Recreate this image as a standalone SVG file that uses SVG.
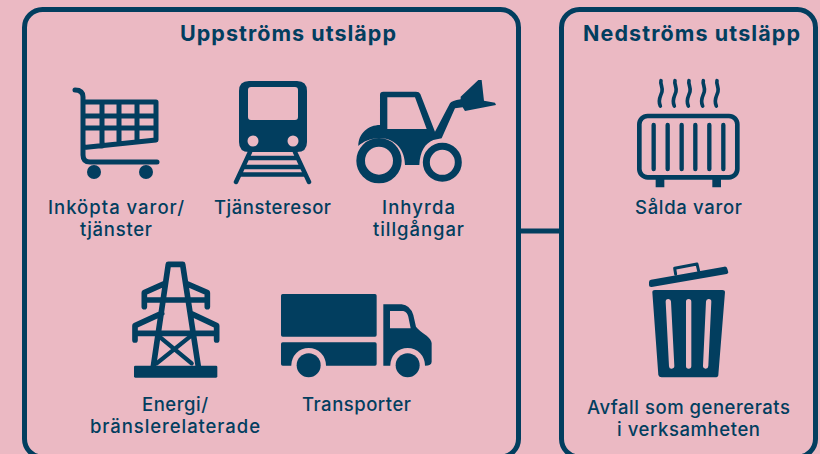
<svg xmlns="http://www.w3.org/2000/svg" width="820" height="454" viewBox="0 0 820 454">
<style>
.panel{fill:none;stroke:#023e5f;stroke-width:5}
.ink{fill:#023e5f}
.line{fill:none;stroke:#023e5f;stroke-linecap:round;stroke-linejoin:round}
.hole{fill:#ebb9c3}
.title{font:700 21.5px "Inter","Liberation Sans",sans-serif;fill:#023e5f;text-anchor:middle}
.label{font:500 18.500px "Inter","Liberation Sans",sans-serif;fill:#023e5f;text-anchor:middle}
</style>
<rect width="820" height="454" fill="#ebb9c3"/>
<g id="connectors"><path d="M520 231H561" fill="none" stroke="#023e5f" stroke-width="5"/></g>
<g id="upstream"><rect class="panel" x="24.500" y="9.500" width="494" height="447.500" rx="18"/><text class="title" x="288" y="41" textLength="216">Uppströms utsläpp</text></g>
<g id="downstream"><rect class="panel" x="561.500" y="9.500" width="254" height="447.500" rx="18"/><text class="title" x="691.500" y="41" textLength="217">Nedströms utsläpp</text></g>
<g id="cart">
<path class="line" stroke-width="5" d="M75 90Q83 90 83 97V155Q83 162 90 162H157M83 102H156V140L84 147.500M83 116H156M83 128H156M102 102V146M119 102V144M137 102V142"/>
<circle class="ink" cx="94" cy="172" r="7"/><circle class="ink" cx="146" cy="172" r="7"/>
<text class="label" x="116" y="214" textLength="136">Inköpta varor/</text>
<text class="label" x="116" y="236" textLength="72">tjänster</text>
</g>
<g id="train">
<path class="ink" fill-rule="evenodd" d="M249 81H297Q307 81 307 91V142Q307 152 297 152H249Q239 152 239 142V91Q239 81 249 81ZM251 87Q248 87 248 90V117Q248 120 251 120H295Q298 120 298 117V90Q298 87 295 87Z"/>
<circle class="hole" cx="253" cy="141" r="5.500"/><circle class="hole" cx="293" cy="141" r="5.500"/>
<path class="line" stroke-width="4.500" d="M250 152L236 182M295 152L309 182M248 158H297M244 167H301M241 174.500H304"/>
<text class="label" x="272.500" y="214" textLength="117">Tjänsteresor</text>
</g>
<g id="tractor">
<g transform="translate(340 70) scale(.3333)">
<path class="ink" fill-rule="evenodd" d="M55 228C55 190 85 165 120 165V75Q120 65 130 65H228Q238 65 241 72L285 185L330 100Q335 92 362 88V80L415 30H425L432 92L465 98L468 105L375 123L368 112L345 115L305 205L280 210C255 220 240 245 238 285H195C195 245 170 205 120 205C90 205 70 215 55 228ZM142 82V177H260L225 82Z"/>
<circle cx="117" cy="272" r="55" fill="none" stroke="#023e5f" stroke-width="26"/>
<circle cx="307" cy="277" r="48" fill="none" stroke="#023e5f" stroke-width="21"/>
</g>
<text class="label" x="418.500" y="214" textLength="73">Inhyrda</text>
<text class="label" x="418.500" y="236" textLength="91">tillgångar</text>
</g>
<g id="tower">
<g transform="translate(120 255) scale(.3333)">
<rect class="ink" x="42" y="332" width="250" height="36" rx="4"/>
<path class="line" stroke-width="17" d="M100 335L145 28H188L235 335M135 85L73 113V155M198 85L262 113V155M73 135H262M125 175L45 212V255M212 175L290 212V255M45 235H290"/>
<path class="line" stroke-width="13" d="M118 245L215 325M210 245L110 325"/>
</g>
<text class="label" x="175" y="411" textLength="66">Energi/</text>
<text class="label" x="175" y="433" textLength="170">bränslerelaterade</text>
</g>
<g id="truck">
<g transform="translate(270 285) scale(.3333)">
<rect class="ink" x="33" y="27" width="287" height="128" rx="5"/>
<rect class="ink" x="33" y="172" width="287" height="70" rx="5"/>
<path class="ink" fill-rule="evenodd" d="M340 58H395Q420 60 430 90L438 125Q445 135 470 152Q485 165 485 175V230Q485 242 465 242H340ZM360 78V130H422L415 95Q412 82 400 78Z"/>
<circle class="hole" cx="116" cy="241" r="52"/><circle class="hole" cx="413" cy="241" r="52"/>
<circle class="ink" cx="116" cy="241" r="36"/><circle class="ink" cx="413" cy="241" r="36"/>
</g>
<text class="label" x="356.500" y="411" textLength="109">Transporter</text>
</g>
<g id="radiator">
<g transform="translate(625 70) scale(.3333)">
<rect x="43" y="138" width="294" height="184" rx="25" fill="none" stroke="#023e5f" stroke-width="14"/>
<path class="line" stroke-width="13" d="M86 165V297M128 165V297M170 165V297M211 165V297M253 165V297M295 165V297"/>
<path class="ink" d="M92 325H118V352H92ZM262 325H288V352H262Z"/>
<path class="line" stroke-width="11" d="M108 32C105 42 114 52 111 65C108 78 97 88 106 108M150 32C147 42 156 52 153 65C150 78 139 88 148 108M192 32C189 42 198 52 195 65C192 78 181 88 190 108M235 32C232 42 241 52 238 65C235 78 224 88 233 108M276 32C273 42 282 52 279 65C276 78 265 88 274 108"/>
</g>
<text class="label" x="688.500" y="214" textLength="107">Sålda varor</text>
</g>
<g id="bin">
<g transform="translate(635 255) scale(.3333)">
<path class="ink" d="M48 74L268 35Q275 34 277 41L280 52Q280 56 275 57L50 96Q42 97 42 90V82Q42 75 48 74Z"/>
<path class="line" stroke-width="9" d="M122 58L119 40L186 27L191 48"/>
<path class="ink" d="M52 112Q52 105 60 105H262Q270 105 270 112L250 360Q250 367 240 367H80Q72 367 70 360Z"/>
<path fill="none" stroke="#ebb9c3" stroke-width="16" stroke-linecap="round" d="M100 140L110 333M161 140V333M221 140L212 333"/>
</g>
<text class="label" x="688.500" y="414" textLength="203">Avfall som genererats</text>
<text class="label" x="688.500" y="436" textLength="143">i verksamheten</text>
</g>
</svg>
